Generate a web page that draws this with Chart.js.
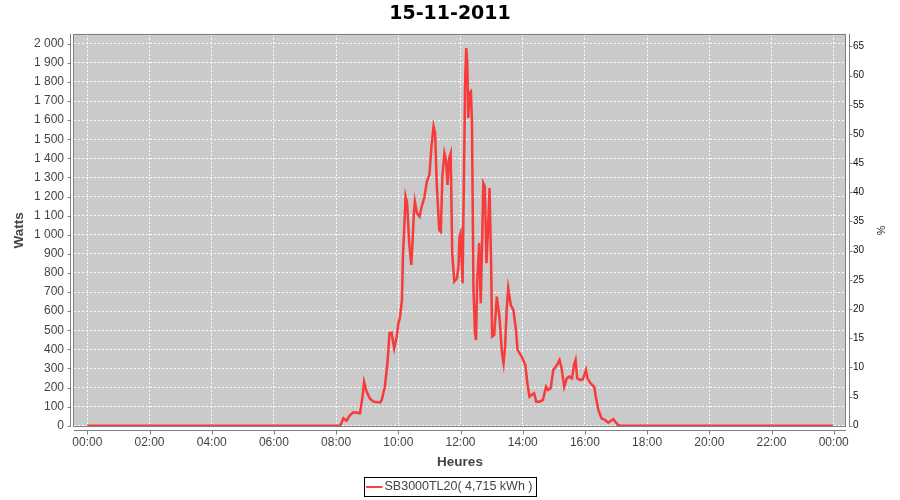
<!DOCTYPE html>
<html>
<head>
<meta charset="utf-8">
<title>15-11-2011</title>
<script src="https://cdn.jsdelivr.net/npm/chart.js@4.4.1/dist/chart.umd.min.js"></script>
<style>
  html, body { margin: 0; padding: 0; background: #fff; }
</style>
</head>
<body>
<canvas id="prodChart" width="900" height="500"></canvas>
<script>
// Production journaliere de l'onduleur, 15-11-2011
var chartTitle = "15-11-2011";
var seriesName = "SB3000TL20( 4,715 kWh )";

var heures = ["00:00", "08:08", "08:14", "08:20", "08:27", "08:33", "08:40", "08:46", "08:51", "08:54",
  "08:59", "09:05", "09:12", "09:25", "09:28", "09:34", "09:39", "09:43", "09:47", "09:52",
  "09:57", "10:00", "10:03", "10:07", "10:09", "10:11", "10:14", "10:17", "10:21", "10:25",
  "10:27", "10:30", "10:32", "10:36", "10:41", "10:45", "10:50", "10:55", "11:00", "11:04",
  "11:08", "11:11", "11:14", "11:19", "11:22", "11:25", "11:29", "11:32", "11:35", "11:38",
  "11:41", "11:44", "11:48", "11:53", "11:56", "11:58", "12:00", "12:04", "12:09", "12:11",
  "12:13", "12:15", "12:17", "12:20", "12:22", "12:25", "12:28", "12:30", "12:32", "12:36",
  "12:39", "12:42", "12:44", "12:47", "12:50", "12:53", "12:56", "12:59", "13:01", "13:05",
  "13:10", "13:15", "13:20", "13:23", "13:26", "13:29", "13:32", "13:37", "13:42", "13:47",
  "13:50", "13:58", "14:05", "14:09", "14:13", "14:17", "14:22", "14:26", "14:32", "14:39",
  "14:45", "14:49", "14:54", "14:59", "15:06", "15:11", "15:15", "15:20", "15:25", "15:30",
  "15:35", "15:39", "15:42", "15:45", "15:51", "15:56", "16:02", "16:05", "16:11", "16:18",
  "16:21", "16:26", "16:32", "16:39", "16:45", "16:50", "16:55", "17:00", "17:04", "17:08",
  "23:58"];

var watts = [0, 0, 39, 26, 56, 70, 68, 65, 152, 230,
  178, 143, 126, 122, 135, 204, 327, 484, 487, 405,
  466, 536, 563, 659, 894, 1008, 1200, 1165, 956, 842,
  938, 1113, 1174, 1113, 1095, 1148, 1191, 1278, 1314, 1462,
  1567, 1532, 1270, 1025, 1016, 1305, 1427, 1392, 1261, 1401,
  1427, 900, 755, 772, 833, 990, 1008, 746, 1811, 1977,
  1899, 1611, 1742, 1750, 1602, 711, 484, 449, 746, 956,
  641, 990, 1270, 1252, 851, 1025, 1244, 851, 466, 475,
  676, 571, 379, 327, 414, 606, 720, 632, 606, 501,
  397, 362, 318, 222, 152, 161, 170, 126, 126, 135,
  204, 187, 196, 292, 318, 344, 301, 204, 248, 257,
  248, 318, 344, 248, 239, 243, 292, 248, 222, 204,
  152, 82, 39, 30, 16, 26, 34, 16, 4, 0,
  0];

// axes
var tickMinutes = [0, 120, 240, 360, 480, 600, 720, 840, 960, 1080, 1200, 1320, 1440];
var tickHeures = ["00:00", "02:00", "04:00", "06:00", "08:00", "10:00", "12:00", "14:00", "16:00", "18:00", "20:00", "22:00", "00:00"];
var wattTicks = [0, 100, 200, 300, 400, 500, 600, 700, 800, 900, 1000, 1100, 1200, 1300, 1400, 1500, 1600, 1700, 1800, 1900, 2000];
var pctTicks = [0, 5, 10, 15, 20, 25, 30, 35, 40, 45, 50, 55, 60, 65];

var wattMin = -6.8, wattMax = 2052;
var pctPerWatt = 65 / 1986;

function toMinutes(s) {
  var p = s.split(":");
  return parseInt(p[0], 10) * 60 + parseInt(p[1], 10);
}

function formatWatts(v) {
  if (v >= 1000) {
    var r = String(v % 1000);
    while (r.length < 3) r = "0" + r;
    return Math.floor(v / 1000) + " " + r;
  }
  return String(v);
}

var points = [];
for (var i = 0; i < heures.length; i++) {
  points.push({ x: toMinutes(heures[i]), y: watts[i] });
}

var tickFont = { family: "Liberation Sans", size: 12 };
var axisTitleFont = { family: "Liberation Sans", size: 13.5, weight: "bold" };

// fond gris, cadre, lignes d'axes decalees et legende encadree
var plotFrame = {
  id: "plotFrame",
  beforeDraw: function (chart) {
    var a = chart.chartArea, ctx = chart.ctx;
    ctx.save();
    ctx.fillStyle = "#ffffff";
    ctx.fillRect(0, 0, chart.width, chart.height);
    ctx.fillStyle = "#cacaca";
    ctx.fillRect(a.left, a.top, a.right - a.left, a.bottom - a.top);
    ctx.restore();
  },
  afterDatasetsDraw: function (chart) {
    var a = chart.chartArea, ctx = chart.ctx;
    var x = chart.scales.x, y = chart.scales.y, y2 = chart.scales.y2;
    ctx.save();
    ctx.lineWidth = 1;
    ctx.strokeStyle = "#808080";
    ctx.strokeRect(Math.round(a.left) - 0.5, Math.round(a.top) + 0.5, Math.round(a.right - a.left), Math.round(a.bottom - a.top) - 1);

    ctx.beginPath();
    // axe gauche
    var lx = Math.round(a.left) - 3.5;
    ctx.moveTo(lx, a.top); ctx.lineTo(lx, a.bottom);
    wattTicks.forEach(function (v) {
      var py = Math.round(y.getPixelForValue(v)) + 0.5;
      ctx.moveTo(lx - 3, py); ctx.lineTo(lx, py);
    });
    // axe bas
    var by = Math.round(a.bottom) + 3.5;
    ctx.moveTo(a.left, by); ctx.lineTo(a.right, by);
    tickMinutes.forEach(function (v) {
      var px = Math.round(x.getPixelForValue(v)) + 0.5;
      ctx.moveTo(px, by); ctx.lineTo(px, by + 4);
    });
    // axe droit
    var rx = Math.round(a.right) + 3.5;
    ctx.moveTo(rx, a.top); ctx.lineTo(rx, a.bottom);
    pctTicks.forEach(function (v) {
      var py = Math.round(y2.getPixelForValue(v)) + 0.5;
      ctx.moveTo(rx, py); ctx.lineTo(rx + 3, py);
    });
    ctx.stroke();
    ctx.restore();
  },
  afterDraw: function (chart) {
    var ctx = chart.ctx;
    var ds = chart.data.datasets[0];
    ctx.save();
    ctx.font = "12.5px 'Liberation Sans'";
    var tw = ctx.measureText(ds.label).width;
    var bw = 20 + tw + 4, bh = 19;
    var bx = Math.round(chart.width / 2 - bw / 2) + 0.5, byy = 477.5;
    ctx.strokeStyle = "#000";
    ctx.lineWidth = 1;
    ctx.strokeRect(bx, byy, Math.round(bw), bh);
    var cy = byy + bh / 2;
    ctx.strokeStyle = ds.borderColor;
    ctx.lineWidth = 2;
    ctx.beginPath();
    ctx.moveTo(bx + 1.5, cy); ctx.lineTo(bx + 18, cy);
    ctx.stroke();
    ctx.fillStyle = "#444";
    ctx.textBaseline = "middle";
    ctx.textAlign = "left";
    ctx.fillText(ds.label, bx + 20, cy);
    ctx.restore();
  }
};

var ctxProd = document.getElementById("prodChart");
var prodChart = new Chart(ctxProd, {
  type: "line",
  data: {
    datasets: [{
      label: seriesName,
      data: points,
      borderColor: "rgba(255, 38, 38, 0.88)",
      borderWidth: 2.5,
      pointRadius: 0,
      tension: 0,
      fill: false
    }]
  },
  options: {
    responsive: false,
    animation: false,
    devicePixelRatio: 1,
    layout: { padding: 0 },
    plugins: {
      legend: { display: false },
      tooltip: { enabled: false },
      title: {
        display: true,
        text: chartTitle,
        color: "#000",
        font: { family: "DejaVu Sans", size: 19, weight: "bold", lineHeight: 1.2 },
        padding: { top: 3, bottom: 8 }
      }
    },
    scales: {
      x: {
        type: "linear",
        min: -25.7,
        max: 1463.7,
        afterBuildTicks: function (scale) {
          scale.ticks = tickMinutes.map(function (v) { return { value: v }; });
        },
        afterFit: function (scale) { scale.height = 73; },
        grid: { color: "#ffffff", lineWidth: 1, drawTicks: false },
        border: { display: false, dash: [2, 2] },
        ticks: {
          autoSkip: false,
          maxRotation: 0,
          padding: 8,
          color: "#444",
          font: tickFont,
          callback: function (v) {
            var k = tickMinutes.indexOf(v);
            return k >= 0 ? tickHeures[k] : "";
          }
        },
        title: {
          display: true,
          text: "Heures",
          color: "#444",
          font: axisTitleFont,
          padding: { top: 0, bottom: 30 }
        }
      },
      y: {
        position: "left",
        min: wattMin,
        max: wattMax,
        afterBuildTicks: function (scale) {
          scale.ticks = wattTicks.map(function (v) { return { value: v }; });
        },
        afterFit: function (scale) { scale.width = 74; },
        grid: { color: "#ffffff", lineWidth: 1, drawTicks: false },
        border: { display: false, dash: [2, 2] },
        ticks: {
          autoSkip: false,
          padding: 10,
          color: "#444",
          font: tickFont,
          callback: function (v) { return formatWatts(v); }
        },
        title: {
          display: true,
          text: "Watts",
          color: "#444",
          font: axisTitleFont,
          padding: { top: 11, bottom: 0 }
        }
      },
      y2: {
        position: "right",
        min: wattMin * pctPerWatt,
        max: wattMax * pctPerWatt,
        afterBuildTicks: function (scale) {
          scale.ticks = pctTicks.map(function (v) { return { value: v }; });
        },
        afterFit: function (scale) { scale.width = 54; },
        grid: { display: false, drawTicks: false },
        border: { display: false },
        ticks: {
          autoSkip: false,
          padding: 7,
          color: "#111",
          font: { family: "Liberation Sans", size: 10 }
        },
        title: {
          display: true,
          text: "%",
          color: "#111",
          font: { family: "Liberation Sans", size: 10.5 },
          padding: { top: 14, bottom: 0 }
        }
      }
    }
  },
  plugins: [plotFrame]
});
</script>
</body>
</html>
